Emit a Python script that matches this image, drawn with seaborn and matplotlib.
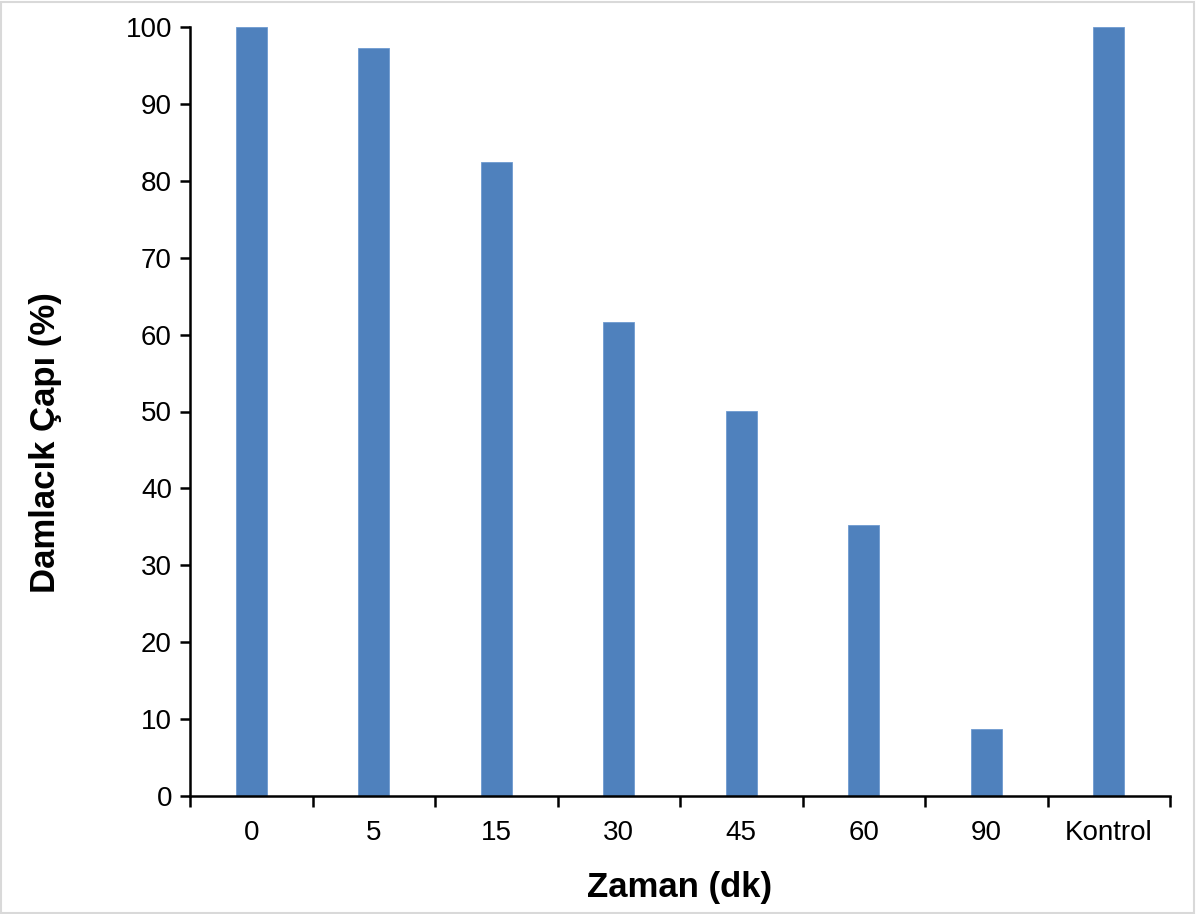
import numpy as np
import pandas as pd
import matplotlib
matplotlib.use("Agg")
import matplotlib.pyplot as plt
from matplotlib.patches import Rectangle
import seaborn as sns

sns.set_style("white")
plt.rcParams['font.family'] = ['Liberation Sans', 'DejaVu Sans']
plt.rcParams['text.color'] = 'black'
plt.rcParams['axes.labelcolor'] = 'black'
plt.rcParams['xtick.color'] = 'black'
plt.rcParams['ytick.color'] = 'black'

categories = ['0', '5', '15', '30', '45', '60', '90', 'Kontrol']
values = [100, 97.3, 82.4, 61.7, 50.1, 35.2, 8.7, 100]

df = pd.DataFrame({'zaman': categories, 'cap': values})

fig, ax = plt.subplots(figsize=(11.96, 9.14), dpi=100)
fig.subplots_adjust(left=190 / 1196, right=1170 / 1196, bottom=1 - 796 / 914, top=1 - 27 / 914)

sns.barplot(data=df, x='zaman', y='cap', ax=ax, color='#4F81BD', saturation=1,
            width=0.25, edgecolor='#6F9AD0', linewidth=0.6)

ax.set_ylim(0, 100)
ax.set_xlim(-0.5, len(categories) - 0.5)
ax.set_yticks(np.arange(0, 101, 10))
ax.set_xticks(np.arange(-0.5, len(categories), 1.0))
ax.set_xticklabels([])
ax.set_xticks(np.arange(len(categories)), minor=True)
ax.set_xticklabels(categories, minor=True)
ax.tick_params(axis='x', which='major', direction='out', length=8, width=1.8, color='black', bottom=True)
ax.tick_params(axis='x', which='minor', length=0, labelsize=20, pad=17, labelcolor='black')
ax.tick_params(axis='y', direction='out', length=7, width=1.8, color='black', left=True,
               labelsize=20, pad=6, labelcolor='black')

for side in ['top', 'right']:
    ax.spines[side].set_visible(False)
for side in ['left', 'bottom']:
    ax.spines[side].set_color('black')
    ax.spines[side].set_linewidth(1.8)

ax.set_xlabel('Zaman (dk)', fontsize=25, fontweight='bold', labelpad=18, color='black')
ax.set_ylabel('Damlacık Çapı (%)', fontsize=25, fontweight='bold', color='black')
ax.yaxis.set_label_coords(-0.131, 0.459)

fig.patches.append(Rectangle((0.001, 0.001), 0.997, 0.997, transform=fig.transFigure,
                             fill=False, edgecolor='#d9d9d9', linewidth=1.5))

fig.savefig('out.png', dpi=100)
